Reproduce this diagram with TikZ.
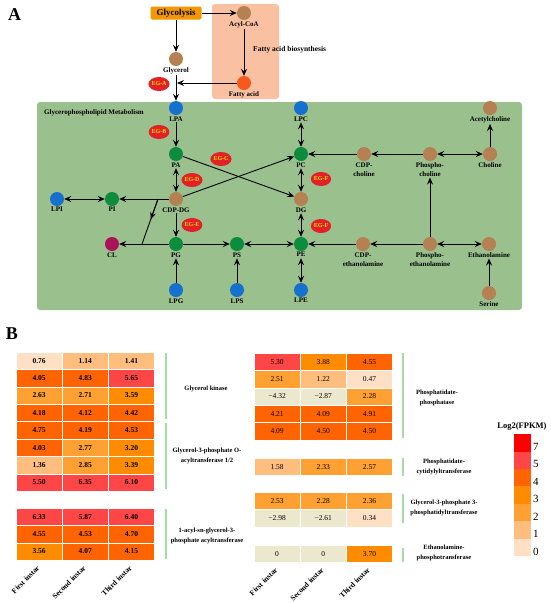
\documentclass[tikz,border=0pt]{standalone}
\usepackage{fontspec}
\setmainfont{Liberation Serif}
\usetikzlibrary{arrows.meta,shapes.geometric,positioning,calc}
\definecolor{cbrown}{RGB}{181,129,82}
\definecolor{cdark}{RGB}{12,140,60}
\definecolor{cblue}{RGB}{22,112,206}
\definecolor{cmag}{RGB}{172,18,92}
\definecolor{cfatty}{RGB}{246,88,30}
\definecolor{corange}{RGB}{243,152,0}
\definecolor{cpink}{RGB}{250,192,162}
\definecolor{cbg}{RGB}{153,192,141}
\definecolor{egred}{RGB}{226,32,40}
\definecolor{egyel}{RGB}{255,232,0}
\definecolor{cbar}{RGB}{165,222,165}
\definecolor{hm9}{RGB}{236,232,206}
\definecolor{hm0}{RGB}{255,224,196}
\definecolor{hm1}{RGB}{255,190,126}
\definecolor{hm2}{RGB}{255,160,50}
\definecolor{hm3}{RGB}{255,140,0}
\definecolor{hm4}{RGB}{255,100,0}
\definecolor{hm5}{RGB}{255,70,70}
\definecolor{hm7}{RGB}{255,0,0}
\newcommand{\cellw}{46.2}
\newcommand{\cellh}{17.4}
\def\hmstrip-#1\relax{#1}
\newcommand{\hmshow}[1]{\ifdim #1pt<0pt −\expandafter\hmstrip#1\relax\else #1\fi}
\newcommand{\hmcell}[5]{%
  \pgfmathtruncatemacro\hmlvl{(#5<0.001) ? 9 : ((#5<5) ? floor(#5) : 5)}%
  \node[node style cell,#1,fill=hm\hmlvl] (#2) at (#3,#4) {\hmshow{#5}};%
}
\tikzset{
    node style met/.style={circle,inner sep=0pt,minimum size=14pt,fill=#1},
    node style lab/.style={inner sep=1pt,align=center,font=\fontsize{7}{9}\selectfont\bfseries},
    node style eg/.style={ellipse,inner sep=0pt,minimum width=20pt,minimum height=14pt,fill=egred,text=egyel,font=\fontsize{6}{6}\selectfont\bfseries},
    node style cell/.style={anchor=north west,inner sep=0pt,outer sep=0pt,minimum width=\cellw pt,minimum height=\cellh pt,draw=white,line width=0.3pt,font=\fontsize{7.5}{8}\selectfont},
    node style col/.style={anchor=east,rotate=45,inner sep=1pt,font=\fontsize{7.5}{8}\selectfont\bfseries},
    node style gene/.style={align=center,inner sep=0pt,font=\fontsize{6.5}{9.5}\selectfont\bfseries},
    arrow style one/.style={->,line width=0.9pt},
    arrow style two/.style={<->,line width=0.9pt},
    bar style/.style={cbar,line width=1.5pt},
}

\begin{document}
\begin{tikzpicture}[>={Stealth[length=7pt,width=6pt,inset=2.5pt]},x=1pt,y=-1pt]
\useasboundingbox (0,0) rectangle (550,603);

% panel A
\node[font=\fontsize{18}{18}\selectfont\bfseries] (pA) at (14.5,15) {A};
\fill[cpink,rounded corners=3pt] (212,4) rectangle (279,99);
\fill[cbg,rounded corners=3pt] (37,102) rectangle (522,310);
\node[node style lab,anchor=west] (gpm) at (43,113) {Glycerophospholipid Metabolism};
\node[node style lab,anchor=west,font=\fontsize{7.5}{9}\selectfont\bfseries] (fab) at (252,50) {Fatty acid biosynthesis};

\node[rectangle,rounded corners=2pt,fill=corange,minimum width=51pt,minimum height=13pt,inner sep=0pt,font=\fontsize{9}{9}\selectfont\bfseries] (gly) at (176,13) {Glycolysis};
\node[node style met=cbrown] (acyl) at (244,13) {}; \node[node style lab,below=0pt of acyl] (acyl-l) {Acyl-CoA};
\node[node style met=cbrown] (glyc) at (176,59) {}; \node[node style lab,below=0pt of glyc] (glyc-l) {Glycerol};
\node[node style met=cfatty] (fatty) at (244,83) {}; \node[node style lab,below=0pt of fatty] (fatty-l) {Fatty acid};
\coordinate (join) at (177,83);

\node[node style met=cblue] (lpa) at (176,108) {}; \node[node style lab,below=0pt of lpa] (lpa-l) {LPA};
\node[node style met=cdark] (pa) at (176,154) {}; \node[node style lab,below=0pt of pa] (pa-l) {PA};
\node[node style met=cbrown] (cdpdg) at (176,199) {}; \node[node style lab,below=0pt of cdpdg] (cdpdg-l) {CDP-DG};
\node[node style met=cdark] (pg) at (176,244) {}; \node[node style lab,below=0pt of pg] (pg-l) {PG};
\node[node style met=cblue] (lpg) at (176,290) {}; \node[node style lab,below=0pt of lpg] (lpg-l) {LPG};
\node[node style met=cblue] (lpi) at (57,199) {}; \node[node style lab,below=0pt of lpi] (lpi-l) {LPI};
\node[node style met=cdark] (pi) at (112,199) {}; \node[node style lab,below=0pt of pi] (pi-l) {PI};
\node[node style met=cmag] (cl) at (112,244) {}; \node[node style lab,below=0pt of cl] (cl-l) {CL};
\node[node style met=cdark] (ps) at (237,244) {}; \node[node style lab,below=0pt of ps] (ps-l) {PS};
\node[node style met=cblue] (lps) at (237,290) {}; \node[node style lab,below=0pt of lps] (lps-l) {LPS};
\node[node style met=cblue] (lpc) at (301,108) {}; \node[node style lab,below=0pt of lpc] (lpc-l) {LPC};
\node[node style met=cdark] (pc) at (301,154) {}; \node[node style lab,below=0pt of pc] (pc-l) {PC};
\node[node style met=cbrown] (dg) at (301,199) {}; \node[node style lab,below=0pt of dg] (dg-l) {DG};
\node[node style met=cdark] (pe) at (301,244) {}; \node[node style lab,below=0pt of pe] (pe-l) {PE};
\node[node style met=cblue] (lpe) at (301,290) {}; \node[node style lab,below=0pt of lpe] (lpe-l) {LPE};
\node[node style met=cbrown] (cdpcho) at (364,154) {}; \node[node style lab,below=0pt of cdpcho] (cdpcho-l) {CDP-\\choline};
\node[node style met=cbrown] (phcho) at (430,154) {}; \node[node style lab,below=0pt of phcho] (phcho-l) {Phospho-\\choline};
\node[node style met=cbrown] (cho) at (490,154) {}; \node[node style lab,below=0pt of cho] (cho-l) {Choline};
\node[node style met=cbrown] (ach) at (490,108) {}; \node[node style lab,below=0pt of ach] (ach-l) {Acetylcholine};
\node[node style met=cbrown] (cdpeth) at (363,244) {}; \node[node style lab,below=0pt of cdpeth] (cdpeth-l) {CDP-\\ethanolamine};
\node[node style met=cbrown] (pheth) at (430,244) {}; \node[node style lab,below=0pt of pheth] (pheth-l) {Phospho-\\ethanolamine};
\node[node style met=cbrown] (eth) at (489,244) {}; \node[node style lab,below=0pt of eth] (eth-l) {Ethanolamine};
\node[node style met=cbrown] (ser) at (489,293) {}; \node[node style lab,below=0pt of ser] (ser-l) {Serine};

\node[node style eg] (ega) at (159,84) {EG-A};
\node[node style eg] (egb) at (159,132) {EG-B};
\node[node style eg] (egc) at (221,159) {EG-C};
\node[node style eg] (egd) at (192,180) {EG-D};
\node[node style eg] (ege) at (192,225) {EG-E};
\node[node style eg] (egf1) at (321,179) {EG-F};
\node[node style eg] (egf2) at (321,226) {EG-F};

\draw[arrow style one] (gly) -- (glyc);
\draw[arrow style one] (gly) -- (acyl);
\draw[arrow style one] (acyl-l) -- (fatty);
\draw[arrow style one] (fatty) -- (join);
\draw[arrow style one] (glyc-l) -- (lpa);
\draw[arrow style one] (lpa-l) -- (pa);
\draw[arrow style two] (pa-l) -- (cdpdg);
\draw[arrow style one] (cdpdg-l) -- (pg);
\draw[arrow style one] (pa) -- (dg);
\draw[arrow style one] (cdpdg) -- (pc);
\draw[arrow style one] (cdpdg) -- (pi);
\draw[arrow style two] (lpi) -- (pi);
\coordinate (br1) at (158,199);
\coordinate (br2) at (142,244);
\draw[line width=0.9pt] (br1) -- (br2);
\draw[arrow style one] (br1) -- ($(br1)!0.45!(br2)$);
\draw[arrow style one] (pg) -- (cl);
\draw[arrow style one] (pg) -- (ps);
\draw[arrow style two] (ps) -- (pe);
\draw[arrow style one] (lpg) -- (pg-l);
\draw[arrow style one] (lps) -- (ps-l);
\draw[arrow style two] (lpc-l) -- (pc);
\draw[arrow style two] (pc-l) -- (dg);
\draw[arrow style two] (dg-l) -- (pe);
\draw[arrow style two] (pe-l) -- (lpe);
\draw[arrow style one] (cdpcho) -- (pc);
\draw[arrow style one] (phcho) -- (cdpcho);
\draw[arrow style two] (phcho) -- (cho);
\draw[arrow style one] (cho) -- (ach-l);
\draw[arrow style one] (pheth) -- (phcho-l);
\draw[arrow style one] (cdpeth) -- (pe);
\draw[arrow style one] (pheth) -- (cdpeth);
\draw[arrow style two] (pheth) -- (eth);
\draw[arrow style one] (ser) -- (eth-l);

% panel B
\node[font=\fontsize{18}{18}\selectfont\bfseries] (pB) at (12,334) {B};

\foreach \row [count=\j from 0] in {{0.76,1.14,1.41},{4.05,4.83,5.65},{2.63,2.71,3.59},{4.18,4.12,4.42},{4.75,4.19,4.53},{4.03,2.77,3.20},{1.36,2.85,3.39},{5.50,6.35,6.10}}
  \foreach \v [count=\i from 0] in \row
    \hmcell{font=\fontsize{7.5}{8}\selectfont\bfseries}{ga\j\i}{16+\cellw*\i}{352+\cellh*\j}{\v};
\foreach \row [count=\j from 0] in {{6.33,5.87,6.40},{4.55,4.53,4.70},{3.56,4.07,4.15}}
  \foreach \v [count=\i from 0] in \row
    \hmcell{font=\fontsize{7.5}{8}\selectfont\bfseries}{gb\j\i}{16+\cellw*\i}{508+\cellh*\j}{\v};
\foreach \row [count=\j from 0] in {{5.30,3.88,4.55},{2.51,1.22,0.47},{-4.32,-2.87,2.28},{4.21,4.09,4.91},{4.09,4.50,4.50}}
  \foreach \v [count=\i from 0] in \row
    \hmcell{}{pp\j\i}{254+\cellw*\i}{353+\cellh*\j}{\v};
\foreach \v [count=\i from 0] in {1.58,2.33,2.57}
  \hmcell{}{ct\i}{254+\cellw*\i}{458}{\v};
\foreach \row [count=\j from 0] in {{2.53,2.28,2.36},{-2.98,-2.61,0.34}}
  \foreach \v [count=\i from 0] in \row
    \hmcell{}{pt\j\i}{254+\cellw*\i}{492+\cellh*\j}{\v};
\foreach \v [count=\i from 0] in {0,0,3.70}
  \hmcell{}{ep\i}{254+\cellw*\i}{545}{\v};

\foreach \t [count=\i from 0] in {First,Second,Third} {
  \node[node style col] (cl\i) at (39.1+\cellw*\i,566) {\t{} instar};
  \node[node style col] (cr\i) at (277.1+\cellw*\i,568) {\t{} instar};
}

\draw[bar style] (166,353) -- (166,419);
\draw[bar style] (166,423) -- (166,489);
\draw[bar style] (166,509) -- (166,559);
\draw[bar style] (403,353) -- (403,438);
\draw[bar style] (403,458) -- (403,476);
\draw[bar style] (403,494) -- (403,523);
\draw[bar style] (403,548) -- (403,562);

\node[node style gene] (gk) at (206,389) {Glycerol kinase};
\node[node style gene] (gpat) at (207,456) {Glycerol-3-phosphate O-\\acyltransferase 1/2};
\node[node style gene] (agpat) at (207,536) {1-acyl-sn-glycerol-3-\\phosphate acyltransferase};
\node[node style gene] (pap) at (437,398) {Phosphatidate-\\phosphatase};
\node[node style gene] (cds) at (444,467) {Phosphatidate-\\cytidylyltransferase};
\node[node style gene] (pgps) at (444,508) {Glycerol-3-phosphate 3-\\phosphatidyltransferase};
\node[node style gene] (ept) at (444,553) {Ethanolamine-\\phosphotransferase};

% legend
\node[font=\fontsize{8.5}{9}\selectfont\bfseries] (key) at (522,426) {Log2(FPKM)};
\foreach \c/\n [count=\k from 0] in {hm7/7,hm5/5,hm4/4,hm3/3,hm2/2,hm1/1,hm0/0} {
  \node[anchor=north west,inner sep=0pt,minimum width=17pt,minimum height=\cellh pt,fill=\c] (key\k) at (514,434+\cellh*\k) {};
  \node[anchor=west,inner sep=0pt,font=\fontsize{11}{11}\selectfont] (keyl\k) at (533,447+\cellh*\k) {\n};
}
\end{tikzpicture}
\end{document}
